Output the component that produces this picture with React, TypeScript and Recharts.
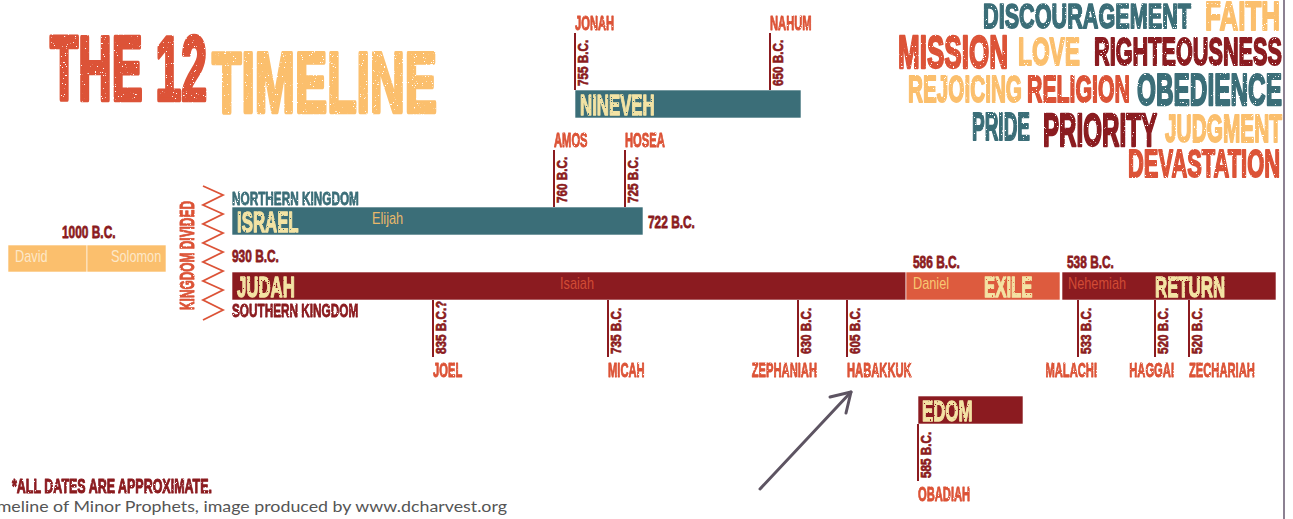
import { ScatterChart, Scatter, XAxis, YAxis, ReferenceArea } from 'recharts';

const W = 1293;
const H = 519;

const C = {
  teal: '#3b6e78',
  wine: '#8b1b20',
  flame: '#dc5337',
  ember: '#dd5b3e',
  gold: '#fbbf6d',
  cream: '#f3e3a4',
  ink: '#5d5462',
  rule: '#8c8192',
};

const TONE: Record<string, string> = { teal: C.teal, wine: C.wine, flame: C.flame, ember: C.ember, gold: C.gold };
const NOTE_ON: Record<string, string> = { teal: '#e9b86a', wine: '#d24b35', ember: '#f8c772', gold: '#fde8c8' };

const BOLD = "'Liberation Sans', Arial, sans-serif";

// periods drawn as bars along the timeline (position along the line, vertical band)
const SPANS = [
  { id: 'david', from: 8, to: 87, top: 245, bottom: 272, tone: 'gold', note: 'David', noteAt: 15 },
  { id: 'solomon', from: 87, to: 166, top: 245, bottom: 272, tone: 'gold', note: 'Solomon', noteAt: 111 },
  { id: 'israel', from: 232, to: 643, top: 207, bottom: 235, tone: 'teal', title: 'ISRAEL', titleAt: 237, note: 'Elijah', noteAt: 372 },
  { id: 'judah', from: 232, to: 906, top: 272, bottom: 300, tone: 'wine', title: 'JUDAH', titleAt: 237, note: 'Isaiah', noteAt: 560 },
  { id: 'exile', from: 906, to: 1060, top: 272, bottom: 300, tone: 'ember', title: 'EXILE', titleAt: 984, note: 'Daniel', noteAt: 913 },
  { id: 'return', from: 1062, to: 1276, top: 272, bottom: 300, tone: 'wine', title: 'RETURN', titleAt: 1155, note: 'Nehemiah', noteAt: 1068 },
  { id: 'nineveh', from: 575, to: 801, top: 90, bottom: 118, tone: 'teal', title: 'NINEVEH', titleAt: 580 },
  { id: 'edom', from: 918, to: 1023, top: 396, bottom: 424, tone: 'wine', title: 'EDOM', titleAt: 922 },
];

// the twelve prophets: tick from the edge of a bar
const PROPHETS = [
  { name: 'JONAH', date: '755 B.C.', at: 575, edge: 90, dir: 'up', align: 'start' },
  { name: 'NAHUM', date: '650 B.C.', at: 770, edge: 90, dir: 'up', align: 'start' },
  { name: 'AMOS', date: '760 B.C.', at: 554, edge: 207, dir: 'up', align: 'start' },
  { name: 'HOSEA', date: '725 B.C.', at: 625, edge: 207, dir: 'up', align: 'start' },
  { name: 'JOEL', date: '835 B.C.?', at: 433, edge: 300, dir: 'down', align: 'start' },
  { name: 'MICAH', date: '735 B.C.', at: 608, edge: 300, dir: 'down', align: 'start' },
  { name: 'ZEPHANIAH', date: '630 B.C.', at: 798, edge: 300, dir: 'down', align: 'end' },
  { name: 'HABAKKUK', date: '605 B.C.', at: 847, edge: 300, dir: 'down', align: 'start' },
  { name: 'MALACHI', date: '533 B.C.', at: 1078, edge: 300, dir: 'down', align: 'end' },
  { name: 'HAGGAI', date: '520 B.C.', at: 1155, edge: 300, dir: 'down', align: 'end' },
  { name: 'ZECHARIAH', date: '520 B.C.', at: 1189, edge: 300, dir: 'down', align: 'start' },
  { name: 'OBADIAH', date: '585 B.C.', at: 918, edge: 424, dir: 'down', align: 'start' },
];

const LANDMARKS = [
  { text: '1000 B.C.', at: 62, base: 238, kind: 'date' },
  { text: '930 B.C.', at: 232, base: 262, kind: 'date' },
  { text: '722 B.C.', at: 648, base: 228, kind: 'date' },
  { text: '586 B.C.', at: 913, base: 268, kind: 'date' },
  { text: '538 B.C.', at: 1067, base: 268, kind: 'date' },
  { text: 'NORTHERN KINGDOM', at: 232, base: 205, kind: 'north' },
  { text: 'SOUTHERN KINGDOM', at: 232, base: 317, kind: 'south' },
  { text: 'KINGDOM DIVIDED', at: 194, base: 310, kind: 'divided' },
];

const DIVIDE_ZIGZAG = [
  { x: 203, y: 186 }, { x: 223, y: 195 }, { x: 203, y: 205 }, { x: 223, y: 214 },
  { x: 203, y: 224 }, { x: 223, y: 233 }, { x: 203, y: 243 }, { x: 223, y: 252 },
  { x: 203, y: 262 }, { x: 223, y: 271 }, { x: 203, y: 281 }, { x: 223, y: 290 },
  { x: 203, y: 300 }, { x: 223, y: 310 }, { x: 203, y: 320 },
];

const TITLE = [
  { text: 'THE 12', tone: 'flame' },
  { text: 'TIMELINE', tone: 'gold' },
];

const CLOUD = [
  { word: 'DISCOURAGEMENT', tone: 'teal' },
  { word: 'FAITH', tone: 'gold' },
  { word: 'MISSION', tone: 'flame' },
  { word: 'LOVE', tone: 'gold' },
  { word: 'RIGHTEOUSNESS', tone: 'wine' },
  { word: 'REJOICING', tone: 'gold' },
  { word: 'RELIGION', tone: 'flame' },
  { word: 'OBEDIENCE', tone: 'teal' },
  { word: 'PRIDE', tone: 'teal' },
  { word: 'PRIORITY', tone: 'wine' },
  { word: 'JUDGMENT', tone: 'gold' },
  { word: 'DEVASTATION', tone: 'flame' },
];

const FOOTNOTE = '*ALL DATES ARE APPROXIMATE.';
const CAPTION = 'Timeline of Minor Prophets, image produced by www.dcharvest.org';

// layout only: [x, baseline, fontSize, width]
const TITLE_BOX = [[50, 100, 91, 157], [212, 112, 85, 225]];
const CLOUD_BOX = [
  [983, 28, 35, 208], [1205, 30, 41, 75],
  [898, 68, 46, 110], [1018, 65, 38, 62], [1094, 65, 38, 188],
  [908, 102, 36, 114], [1027, 102, 36, 103], [1137, 105, 45, 145],
  [972, 140, 38, 58], [1043, 146, 47, 114], [1165, 142, 38, 117],
  [1128, 177, 38, 152],
];

const TICK = 57;

function Cond({ x, y, text, size, sx, fill, anchor = 'start', rotate = 0, weight = 700, rough = false, heavy = 0.045 }: any) {
  return (
    <text
      transform={`translate(${x} ${y}) rotate(${rotate}) scale(${sx} 1)`}
      fontSize={size}
      fontWeight={weight}
      fontFamily={BOLD}
      fill={fill}
      stroke={weight >= 700 ? fill : 'none'}
      strokeWidth={weight >= 700 ? size * heavy : 0}
      strokeLinejoin="round"
      textAnchor={anchor}
      filter={rough ? 'url(#grunge)' : undefined}
    >
      {text}
    </text>
  );
}

function Fit({ x, y, w, size, fill, text, rough = true, weight = 700, family = BOLD, heavy = 0.05 }: any) {
  return (
    <text
      x={x}
      y={y}
      fontSize={size}
      fontWeight={weight}
      fontFamily={family}
      fill={fill}
      stroke={weight >= 700 ? fill : 'none'}
      strokeWidth={weight >= 700 ? size * heavy : 0}
      strokeLinejoin="round"
      textLength={w}
      lengthAdjust="spacingAndGlyphs"
      filter={rough ? 'url(#grunge)' : undefined}
    >
      {text}
    </text>
  );
}

const ProphetMark = (p: any) => {
  const { cx, cy, payload: d } = p;
  const up = d.dir === 'up';
  const end = up ? cy - TICK : cy + TICK;
  const dateBase = up ? cy - 4 : end - 3;
  const nameBase = up ? end - 3 : end + 20;
  const nameX = d.align === 'end' ? cx + 19 : cx;
  return (
    <g>
      <line x1={cx} y1={cy} x2={cx} y2={end} stroke={C.wine} strokeWidth={2} />
      <Cond x={cx + 13} y={dateBase} rotate={-90} size={15} sx={0.78} fill={C.wine} text={d.date} />
      <Cond x={nameX} y={nameBase} size={20} sx={0.56} fill={C.flame} anchor={d.align} text={d.name} rough />
    </g>
  );
};

const BarText = (p: any) => {
  const { cx, cy, payload: d } = p;
  if (d.role === 'title') {
    return <Cond x={cx} y={cy + 11} size={29} sx={0.58} fill={C.cream} text={d.text} rough />;
  }
  return <Cond x={cx} y={cy + 5} size={17} sx={0.75} weight={400} fill={NOTE_ON[d.tone]} text={d.text} />;
};

const Landmark = (p: any) => {
  const { cx, cy, payload: d } = p;
  if (d.kind === 'date') return <Cond x={cx} y={cy} size={17} sx={0.7} fill={C.wine} text={d.text} />;
  if (d.kind === 'divided')
    return <Cond x={cx} y={cy} rotate={-90} size={19.5} sx={0.61} fill={C.flame} text={d.text} rough />;
  return <Cond x={cx} y={cy} size={19} sx={0.62} fill={d.kind === 'north' ? C.teal : C.wine} text={d.text} rough />;
};

export default function App() {
  const barText = SPANS.flatMap((s: any) => [
    ...(s.title ? [{ x: s.titleAt, y: (s.top + s.bottom) / 2, text: s.title, role: 'title', tone: s.tone }] : []),
    ...(s.note ? [{ x: s.noteAt, y: (s.top + s.bottom) / 2 - 2, text: s.note, role: 'note', tone: s.tone }] : []),
  ]);
  const prophets = PROPHETS.map((d) => ({ ...d, x: d.at, y: d.edge }));
  const landmarks = LANDMARKS.map((d) => ({ ...d, x: d.at, y: d.base }));

  return (
    <div style={{ position: 'absolute', left: 0, top: 0, width: W, height: H, background: '#fff', overflow: 'hidden' }}>
      <svg width={0} height={0} style={{ position: 'absolute' }}>
        <defs>
          {/* light wear: knocks a few pale specks out of the stencil lettering */}
          <filter id="grunge" x="-5%" y="-5%" width="110%" height="110%">
            <feTurbulence type="fractalNoise" baseFrequency="0.9" numOctaves={2} seed={7} result="n" />
            <feColorMatrix in="n" type="matrix" values="0 0 0 0 0  0 0 0 0 0  0 0 0 0 0  0 0 0 -22 16.8" result="m" />
            <feComposite in="SourceGraphic" in2="m" operator="in" />
          </filter>
        </defs>
      </svg>

      <ScatterChart width={W} height={H} margin={{ top: 0, right: 0, bottom: 0, left: 0 }}>
        <XAxis type="number" dataKey="x" domain={[0, W]} hide />
        <YAxis type="number" dataKey="y" domain={[0, H]} reversed hide />
        {SPANS.map((s) => (
          <ReferenceArea
            key={s.id}
            x1={s.from}
            x2={s.to}
            y1={s.top}
            y2={s.bottom}
            fill={TONE[s.tone]}
            fillOpacity={1}
            stroke="#ffffff"
            strokeOpacity={0.6}
            strokeWidth={1}
            ifOverflow="visible"
          />
        ))}
        <Scatter
          data={DIVIDE_ZIGZAG}
          line={{ stroke: C.flame, strokeWidth: 1.8 }}
          shape={() => <g />}
          isAnimationActive={false}
        />
        <Scatter data={barText} shape={BarText} isAnimationActive={false} />
        <Scatter data={prophets} shape={ProphetMark} isAnimationActive={false} />
        <Scatter data={landmarks} shape={Landmark} isAnimationActive={false} />
      </ScatterChart>

      <svg width={W} height={H} style={{ position: 'absolute', left: 0, top: 0, pointerEvents: 'none' }}>
        {TITLE.map((t, i) => {
          const [x, y, size, w] = TITLE_BOX[i];
          return <Fit key={t.text} x={x} y={y} size={size} w={w} fill={TONE[t.tone]} text={t.text} />;
        })}
        {CLOUD.map((c, i) => {
          const [x, y, size, w] = CLOUD_BOX[i];
          return <Fit key={c.word} x={x} y={y} size={size} w={w} fill={TONE[c.tone]} text={c.word} />;
        })}
        <line x1={1284} y1={0} x2={1284} y2={H} stroke={C.rule} strokeWidth={2} />
        <g stroke={C.ink} strokeWidth={3} strokeLinecap="round" fill="none">
          <line x1={760} y1={489} x2={851} y2={392} />
          <polyline points="830,397 851,392 846,413" strokeLinejoin="round" />
        </g>
        <Fit x={12} y={493} size={21} w={200} fill={C.wine} text={FOOTNOTE} />
        <Fit
          x={-18}
          y={512}
          size={16}
          w={525}
          fill="#555555"
          weight={400}
          family="'Lato', 'Open Sans', sans-serif"
          rough={false}
          text={CAPTION}
        />
      </svg>
    </div>
  );
}
